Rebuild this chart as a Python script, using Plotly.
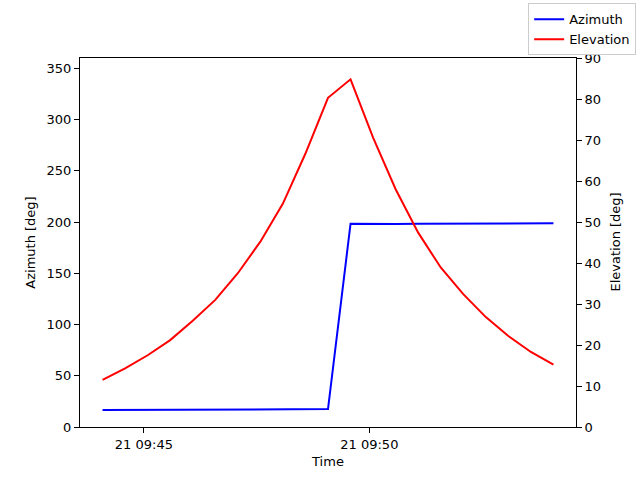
import plotly.graph_objects as go

times = ["2023-06-21 09:44:05", "2023-06-21 09:44:35", "2023-06-21 09:45:05", "2023-06-21 09:45:35",
         "2023-06-21 09:46:05", "2023-06-21 09:46:35", "2023-06-21 09:47:05", "2023-06-21 09:47:35",
         "2023-06-21 09:48:05", "2023-06-21 09:48:35", "2023-06-21 09:49:05", "2023-06-21 09:49:35",
         "2023-06-21 09:50:05", "2023-06-21 09:50:35", "2023-06-21 09:51:05", "2023-06-21 09:51:35",
         "2023-06-21 09:52:05", "2023-06-21 09:52:35", "2023-06-21 09:53:05", "2023-06-21 09:53:35",
         "2023-06-21 09:54:05"]
azimuth = [16.5, 16.6, 16.7, 16.8, 16.9, 17.0, 17.1, 17.2, 17.3, 17.4, 17.5, 198.3,
           198.0, 198.1, 198.2, 198.3, 198.4, 198.5, 198.6, 198.7, 198.8]
elevation = [11.5, 14.3, 17.5, 21.2, 25.9, 31.0, 37.5, 45.2, 54.5, 66.7, 80.3, 84.8,
             70.6, 58.0, 47.4, 38.9, 32.4, 26.8, 22.2, 18.3, 15.2]
x_ticks = ["2023-06-21 09:45:00", "2023-06-21 09:50:00"]
x_tick_labels = ["21 09:45", "21 09:50"]

font = dict(family="DejaVu Sans", size=13, color="black")

fig = go.Figure()
fig.add_trace(go.Scatter(x=times, y=azimuth, mode="lines", name="Azimuth",
                         line=dict(color="blue", width=2), yaxis="y"))
fig.add_trace(go.Scatter(x=times, y=elevation, mode="lines", name="Elevation",
                         line=dict(color="red", width=2), yaxis="y2"))

axis_common = dict(showline=True, linecolor="black", linewidth=1, ticks="outside",
                   ticklen=5, tickcolor="black", showgrid=False, zeroline=False,
                   tickfont=font)

fig.update_layout(
    width=640, height=480,
    margin=dict(l=80, r=64, t=58, b=53, autoexpand=False),
    paper_bgcolor="white", plot_bgcolor="white",
    font=font,
    xaxis=dict(**axis_common, type="date", range=["2023-06-21 09:43:35", "2023-06-21 09:54:35"],
               tickvals=x_ticks, ticktext=x_tick_labels, mirror=True,
               title=dict(text="Time", font=font, standoff=6)),
    yaxis=dict(**axis_common, range=[0, 360], dtick=50,
               title=dict(text="Azimuth [deg]", font=font, standoff=8)),
    yaxis2=dict(**axis_common, range=[0, 90], dtick=10, overlaying="y", side="right"),
    annotations=[dict(text="Elevation [deg]", xref="paper", yref="paper", x=1, y=0.5,
                      xshift=39, showarrow=False, textangle=-90, font=font,
                      xanchor="center", yanchor="middle")],
    legend=dict(xref="container", yref="container", x=0.994, y=0.993,
                xanchor="right", yanchor="top", bordercolor="#cccccc", borderwidth=1,
                bgcolor="white", font=font, tracegroupgap=0, itemwidth=30),
    showlegend=True,
)

fig.write_html("out.html", config={"displayModeBar": False},
               post_script="document.body.style.margin='0';")
